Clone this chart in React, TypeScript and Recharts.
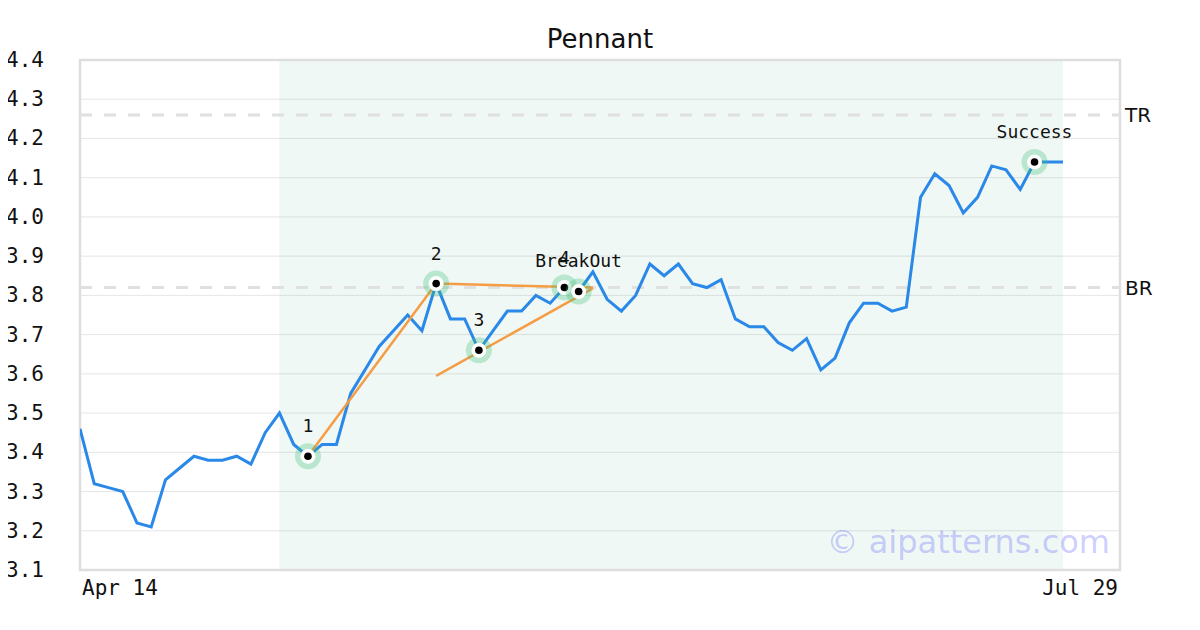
import React from "react";
import {
  ComposedChart,
  Line,
  Scatter,
  XAxis,
  YAxis,
  CartesianGrid,
  ReferenceArea,
  ReferenceLine,
} from "recharts";

// daily closes, index 0 = Apr 14
const closes = [
  3.46, 3.32, 3.31, 3.3, 3.22, 3.21, 3.33, 3.36, 3.39, 3.38,
  3.38, 3.39, 3.37, 3.45, 3.5, 3.42, 3.39, 3.42, 3.42, 3.55,
  3.61, 3.67, 3.71, 3.75, 3.71, 3.83, 3.74, 3.74, 3.66, 3.71,
  3.76, 3.76, 3.8, 3.78, 3.82, 3.81, 3.86, 3.79, 3.76, 3.8,
  3.88, 3.85, 3.88, 3.83, 3.82, 3.84, 3.74, 3.72, 3.72, 3.68,
  3.66, 3.69, 3.61, 3.64, 3.73, 3.78, 3.78, 3.76, 3.77, 4.05,
  4.11, 4.08, 4.01, 4.05, 4.13, 4.12, 4.07, 4.14, 4.14, 4.14,
];

const xTickLabels = ["Apr 14", "Jul 29"];
const xTicks = [0, 73];
const yTicks = [3.1, 3.2, 3.3, 3.4, 3.5, 3.6, 3.7, 3.8, 3.9, 4.0, 4.1, 4.2, 4.3, 4.4];

// pattern window
const zoneStart = 14;
const zoneEnd = 69;

const topResistance = 4.26;
const breakResistance = 3.82;

const markerIdx = [16, 25, 28, 34, 35, 67];
const markerLabels = ["1", "2", "3", "4", "BreakOut", "Success"];

const legA = [
  { i: 16, v: 3.39 },
  { i: 25, v: 3.83 },
];
const upperLine = [
  { i: 25, v: 3.83 },
  { i: 36, v: 3.82 },
];
const lowerLine = [
  { i: 25, v: 3.595 },
  { i: 36, v: 3.818 },
];

const series = closes.map((v, i) => ({ i, v }));
const markers = markerIdx.map((i, k) => ({ i, v: closes[i], label: markerLabels[k] }));

const mono = "'DejaVu Sans Mono', monospace";
const sans = "'DejaVu Sans', sans-serif";

const YTick = (props: any) => {
  const { y, payload } = props;
  return (
    <text x={44} y={y} dy={7} textAnchor="end" fontFamily={mono} fontSize={21} fill="#111">
      {payload.value.toFixed(1)}
    </text>
  );
};

const XTick = (props: any) => {
  const { x, y, payload } = props;
  const k = xTicks.indexOf(payload.value);
  return (
    <text
      x={k === 0 ? x + 2 : x - 2}
      y={y}
      dy={17}
      textAnchor={k === 0 ? "start" : "end"}
      fontFamily={mono}
      fontSize={21}
      fill="#111"
    >
      {xTickLabels[k]}
    </text>
  );
};

const MarkerShape = (props: any) => {
  const { cx, cy, payload } = props;
  return (
    <g>
      <circle cx={cx} cy={cy} r={13} fill="rgba(60,190,120,0.3)" />
      <circle cx={cx} cy={cy} r={7.5} fill="#fff" />
      <circle cx={cx} cy={cy} r={3.8} fill="#000" />
      <text x={cx} y={cy - 24} textAnchor="middle" fontFamily={mono} fontSize={18} fill="#111">
        {payload.label}
      </text>
    </g>
  );
};

export default function App() {
  return (
    <div style={{ margin: -8, position: "relative", width: 1200, height: 630, background: "#fff" }}>
      <div
        style={{
          position: "absolute",
          top: 24,
          left: 0,
          width: 1200,
          textAlign: "center",
          fontFamily: sans,
          fontSize: 26,
          lineHeight: "normal",
          color: "#111",
        }}
      >
        Pennant
      </div>
      <ComposedChart
        width={1200}
        height={630}
        margin={{ top: 60, right: 80, left: 0, bottom: 0 }}
        style={{ position: "absolute", top: 0, left: 0 }}
      >
        <CartesianGrid vertical={false} stroke="#e6e6e6" />
        <XAxis
          type="number"
          dataKey="i"
          domain={[0, 73]}
          ticks={xTicks}
          tick={<XTick />}
          tickLine={false}
          axisLine={false}
          height={60}
          allowDataOverflow
        />
        <YAxis
          type="number"
          domain={[3.1, 4.4]}
          ticks={yTicks}
          tick={<YTick />}
          tickLine={false}
          axisLine={false}
          width={80}
          allowDataOverflow
        />
        <ReferenceArea x1={zoneStart} x2={zoneEnd} y1={3.1} y2={4.4} fill="#2e9c6a" fillOpacity={0.075} stroke="none" />
        <ReferenceArea x1={0} x2={73} y1={3.1} y2={4.4} fill="none" stroke="#dedede" strokeWidth={2.5} />
        <ReferenceLine
          y={topResistance}
          stroke="#e0e0e0"
          strokeWidth={3}
          strokeDasharray="12 12"
          label={{ value: "TR", position: "right", fontFamily: sans, fontSize: 20, fill: "#111" }}
        />
        <ReferenceLine
          y={breakResistance}
          stroke="#e0e0e0"
          strokeWidth={3}
          strokeDasharray="12 12"
          label={{ value: "BR", position: "right", fontFamily: sans, fontSize: 20, fill: "#111" }}
        />
        <Line
          data={series}
          dataKey="v"
          type="linear"
          stroke="#2a88e8"
          strokeWidth={3}
          dot={false}
          isAnimationActive={false}
        />
        <Line data={legA} dataKey="v" stroke="#f59d45" strokeWidth={2.5} dot={false} isAnimationActive={false} />
        <Line data={upperLine} dataKey="v" stroke="#f59d45" strokeWidth={2.5} dot={false} isAnimationActive={false} />
        <Line data={lowerLine} dataKey="v" stroke="#f59d45" strokeWidth={2.5} dot={false} isAnimationActive={false} />
        <Scatter data={markers} dataKey="v" shape={<MarkerShape />} isAnimationActive={false} />
      </ComposedChart>
      <div
        style={{
          position: "absolute",
          top: 523,
          right: 90,
          fontFamily: sans,
          fontSize: 32,
          lineHeight: "normal",
          color: "rgba(90,90,255,0.3)",
          whiteSpace: "nowrap",
        }}
      >
        © aipatterns.com
      </div>
    </div>
  );
}
